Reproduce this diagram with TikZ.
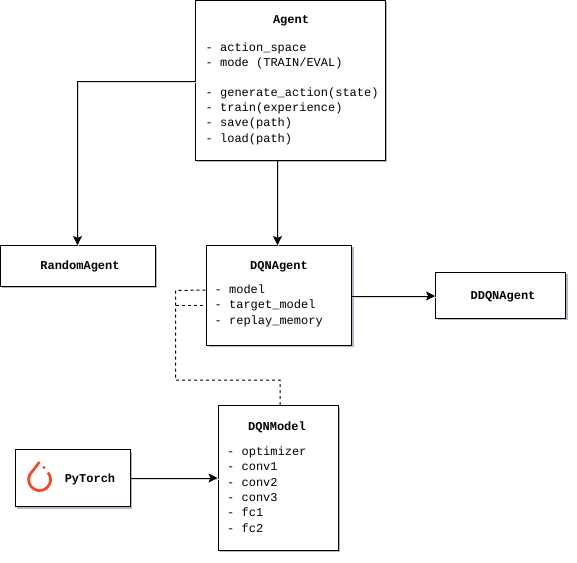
\documentclass[tikz,border=0pt]{standalone}
\usepackage{fontspec}
\setmonofont{Liberation Mono}
\usetikzlibrary{arrows.meta}
\definecolor{torchred}{HTML}{EE4C2C}
\definecolor{shade}{HTML}{B4B8C8}

\begin{document}
\begin{tikzpicture}
    [x=1pt, y=-1pt,
    box/.style={draw=black, line width=1pt, fill=white, inner sep=0pt,
        preaction={draw=none, fill=shade, transform canvas={shift={(2pt,-2pt)}}}},
    title/.style={font=\fontsize{12}{14}\ttfamily\bfseries, inner sep=0pt},
    member/.style={font=\fontsize{12}{14}\ttfamily, inner sep=0pt, anchor=west, text height=9pt, text depth=3pt},
    link/.style={line width=1pt, -{Stealth[length=9pt, width=9pt, inset=2pt]},
        preaction={draw=black!15, line width=1pt, -, transform canvas={shift={(1pt,-1.5pt)}}}},
    ref/.style={line width=1pt, dash pattern=on 3pt off 3pt}]
    \useasboundingbox (0.5,0) rectangle (577.5,562);

        %% Agent
    \node[box, minimum width=190pt, minimum height=160pt] (Agent) at (290.5,80) {};
    \node[title] (AgentT) at (291.5,21) {Agent};
    \node[member] (A1) at (206,48) {- action\_space};
    \node[member] (A2) at (206,63.5) {- mode (TRAIN/EVAL)};
    \node[member] (A3) at (206,93) {- generate\_action(state)};
    \node[member] (A4) at (206,108) {- train(experience)};
    \node[member] (A5) at (206,123.5) {- save(path)};
    \node[member] (A6) at (206,139) {- load(path)};

        %% Agents below
    \node[box, minimum width=155pt, minimum height=41pt] (Random) at (78,265.5) {};
    \node[title] (RandomT) at (80.5,266.5) {RandomAgent};

    \node[box, minimum width=145pt, minimum height=100pt] (DQN) at (279.5,295) {};
    \node[title] (DQNT) at (279.5,266.5) {DQNAgent};
    \node[member] (D1) at (215,290) {- model};
    \node[member] (D2) at (215,305.5) {- target\_model};
    \node[member] (D3) at (215,321) {- replay\_memory};

    \node[box, minimum width=130pt, minimum height=46pt] (DDQN) at (501,295) {};
    \node[title] (DDQNT) at (503.5,296.5) {DDQNAgent};

        %% Model
    \node[box, minimum width=120pt, minimum height=145pt] (Model) at (278.5,477.5) {};
    \node[title] (ModelT) at (277.5,427) {DQNModel};
    \node[member] (M1) at (227.5,452) {- optimizer};
    \node[member] (M2) at (227.5,467.5) {- conv1};
    \node[member] (M3) at (227.5,483) {- conv2};
    \node[member] (M4) at (227.5,498.5) {- conv3};
    \node[member] (M5) at (227.5,513.5) {- fc1};
    \node[member] (M6) at (227.5,529) {- fc2};

        %% PyTorch
    \node[box, minimum width=115pt, minimum height=57pt] (Torch) at (73,478) {};
    \node[title] (TorchT) at (90.5,479) {PyTorch};
    \draw[torchred, line width=2.8pt, line join=round] (48.5,472.5) arc (40:-230:11pt) -- (40,462);
    \fill[torchred] (44.5,467.5) circle (1.7pt);

        %% Links
    \coordinate (AL) at (Agent.west |- 0,81);
    \coordinate (AB) at (278,160);
    \coordinate (DT) at (278,245);
    \coordinate (DR) at (DQN.east |- 0,296);
    \coordinate (DDL) at (DDQN.west |- 0,296);
    \coordinate (ML) at (Model.west |- Torch.east);
    \coordinate (MT) at (280.5,405);

    \draw[link] (AL) -- (78,81) -- (78,245);
    \draw[link] (AB) -- (DT);
    \draw[link] (DR) -- (DDL);
    \draw[link] (Torch.east) -- (ML);

    \draw[ref] (MT) -- (280.5,380) -- (176,380) -- (176,290.5) -- (DQN.west |- D1);
    \draw[ref] (176,305.5) -- (DQN.west |- D2);
    \end{tikzpicture}
\end{document}
